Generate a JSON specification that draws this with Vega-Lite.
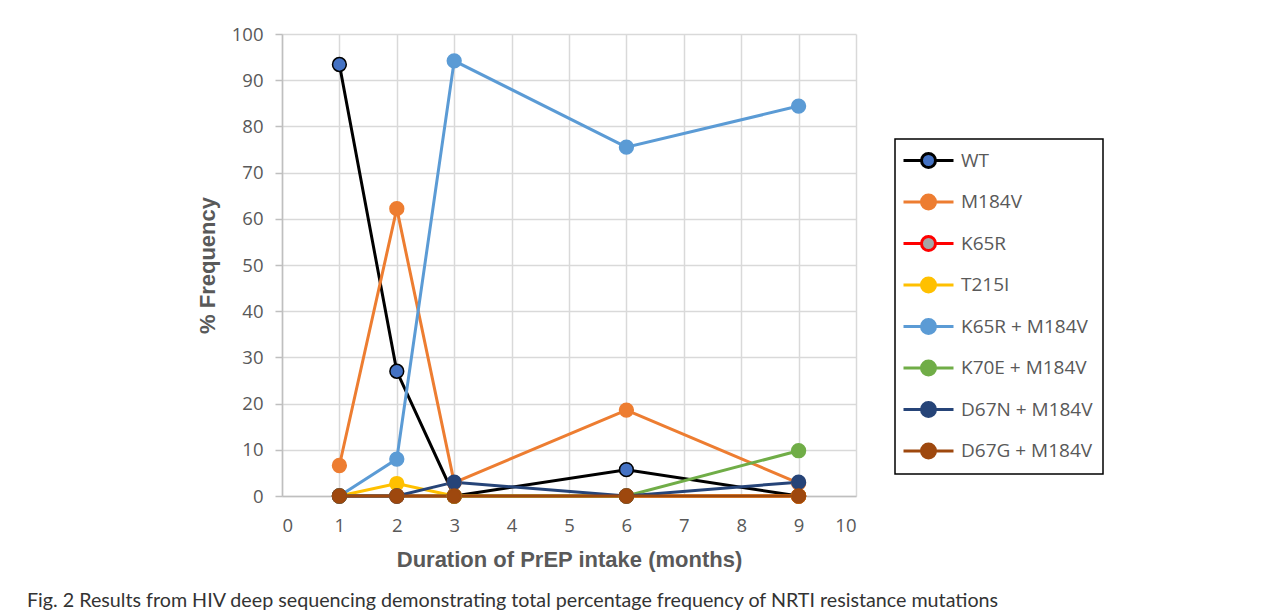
{
  "$schema": "https://vega.github.io/schema/vega-lite/v6.json",
  "width": 574,
  "height": 462,
  "autosize": "none",
  "padding": {"left": 282, "top": 34, "right": 425, "bottom": 119},
  "background": "white",
  "title": {
    "text": "Fig. 2 Results from HIV deep sequencing demonstrating total percentage frequency of NRTI resistance mutations",
    "orient": "bottom",
    "anchor": "start",
    "frame": "group",
    "dx": -255,
    "offset": 20,
    "font": "Lato",
    "fontSize": 19.7,
    "fontWeight": "normal",
    "color": "#333333"
  },
  "data": {
    "values": [
      {"series": "WT", "month": 1, "pct": 93.4},
      {"series": "WT", "month": 2, "pct": 27.0},
      {"series": "WT", "month": 3, "pct": 0},
      {"series": "WT", "month": 6, "pct": 5.7},
      {"series": "WT", "month": 9, "pct": 0},
      {"series": "M184V", "month": 1, "pct": 6.6},
      {"series": "M184V", "month": 2, "pct": 62.2},
      {"series": "M184V", "month": 3, "pct": 2.9},
      {"series": "M184V", "month": 6, "pct": 18.6},
      {"series": "M184V", "month": 9, "pct": 2.8},
      {"series": "K65R", "month": 1, "pct": 0},
      {"series": "K65R", "month": 2, "pct": 0},
      {"series": "K65R", "month": 3, "pct": 0},
      {"series": "K65R", "month": 6, "pct": 0},
      {"series": "K65R", "month": 9, "pct": 0},
      {"series": "T215I", "month": 1, "pct": 0},
      {"series": "T215I", "month": 2, "pct": 2.7},
      {"series": "T215I", "month": 3, "pct": 0},
      {"series": "T215I", "month": 6, "pct": 0},
      {"series": "T215I", "month": 9, "pct": 0},
      {"series": "K65R + M184V", "month": 1, "pct": 0},
      {"series": "K65R + M184V", "month": 2, "pct": 8.0},
      {"series": "K65R + M184V", "month": 3, "pct": 94.2},
      {"series": "K65R + M184V", "month": 6, "pct": 75.5},
      {"series": "K65R + M184V", "month": 9, "pct": 84.4},
      {"series": "K70E + M184V", "month": 1, "pct": 0},
      {"series": "K70E + M184V", "month": 2, "pct": 0},
      {"series": "K70E + M184V", "month": 3, "pct": 0},
      {"series": "K70E + M184V", "month": 6, "pct": 0},
      {"series": "K70E + M184V", "month": 9, "pct": 9.8},
      {"series": "D67N + M184V", "month": 1, "pct": 0},
      {"series": "D67N + M184V", "month": 2, "pct": 0},
      {"series": "D67N + M184V", "month": 3, "pct": 3.0},
      {"series": "D67N + M184V", "month": 6, "pct": 0},
      {"series": "D67N + M184V", "month": 9, "pct": 3.0},
      {"series": "D67G + M184V", "month": 1, "pct": 0},
      {"series": "D67G + M184V", "month": 2, "pct": 0},
      {"series": "D67G + M184V", "month": 3, "pct": 0},
      {"series": "D67G + M184V", "month": 6, "pct": 0},
      {"series": "D67G + M184V", "month": 9, "pct": 0}
    ]
  },
  "encoding": {
    "x": {
      "field": "month",
      "type": "quantitative",
      "scale": {"domain": [0, 10], "nice": false, "zero": false},
      "axis": {
        "values": [0, 1, 2, 3, 4, 5, 6, 7, 8, 9, 10],
        "title": "Duration of PrEP intake (months)",
        "tickSize": 0,
        "labelPadding": 20,
        "titlePadding": 15
      }
    },
    "y": {
      "field": "pct",
      "type": "quantitative",
      "scale": {"domain": [0, 100], "nice": false},
      "axis": {
        "values": [0, 10, 20, 30, 40, 50, 60, 70, 80, 90, 100],
        "title": "% Frequency",
        "tickSize": 7,
        "labelPadding": 12,
        "titlePadding": 12
      }
    }
  },
  "layer": [
    {
      "mark": {"type": "line", "strokeWidth": 3},
      "encoding": {
        "stroke": {
          "field": "series",
          "type": "nominal",
          "scale": {
            "domain": ["WT", "M184V", "K65R", "T215I", "K65R + M184V", "K70E + M184V", "D67N + M184V", "D67G + M184V"],
            "range": ["#000000", "#ED7D31", "#FF0000", "#FFC000", "#5B9BD5", "#70AD47", "#264478", "#9E480E"]
          },
          "legend": {"title": null}
        }
      }
    },
    {
      "mark": {"type": "point", "filled": false, "size": 190, "strokeWidth": 1.5, "opacity": 1, "fillOpacity": 1},
      "encoding": {
        "stroke": {
          "field": "series",
          "type": "nominal",
          "legend": {"title": null}
        },
        "fill": {
          "field": "series",
          "type": "nominal",
          "scale": {
            "domain": ["WT", "M184V", "K65R", "T215I", "K65R + M184V", "K70E + M184V", "D67N + M184V", "D67G + M184V"],
            "range": ["#4472C4", "#ED7D31", "#A5A5A5", "#FFC000", "#5B9BD5", "#70AD47", "#264478", "#9E480E"]
          },
          "legend": {"title": null}
        }
      }
    }
  ],
  "config": {
    "view": {"stroke": null},
    "axis": {
      "labelFont": "Open Sans",
      "labelFontSize": 18.5,
      "labelColor": "#595959",
      "gridColor": "#d9d9d9",
      "gridWidth": 1.5,
      "domainColor": "#bfbfbf",
      "domainWidth": 1.5,
      "tickColor": "#bfbfbf",
      "tickWidth": 1.5,
      "titleFont": "Liberation Sans",
      "titleFontSize": 22,
      "titleFontWeight": "bold",
      "titleColor": "#595959"
    },
    "legend": {
      "orient": "none",
      "legendX": 613,
      "legendY": 105,
      "strokeColor": "#000000",
      "strokeWidth": 1.5,
      "padding": 10,
      "symbolType": "M-2.5,0H-0.7M0.7,0H2.5M0.7,0A0.7,0.7,0,1,1,-0.7,0A0.7,0.7,0,1,1,0.7,0Z",
      "symbolSize": 400,
      "symbolStrokeWidth": 3,
      "symbolOpacity": 1,
      "symbolOffset": 12,
      "labelFont": "Open Sans",
      "labelFontSize": 19,
      "labelColor": "#595959",
      "labelOffset": 21,
      "rowPadding": 14.5
    }
  }
}
